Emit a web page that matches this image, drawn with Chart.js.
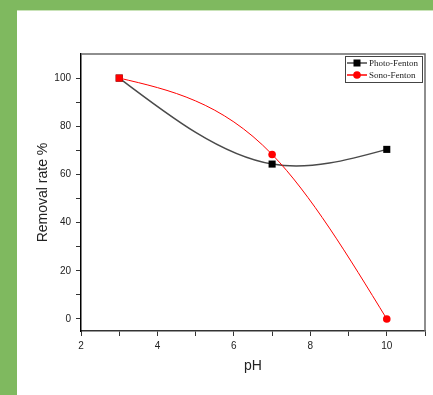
<!DOCTYPE html>
<html>
<head>
<meta charset="utf-8">
<script src="https://cdn.jsdelivr.net/npm/chart.js@4/dist/chart.umd.min.js"></script>
<style>
  html, body { margin: 0; padding: 0; background: #fff; }
  #wrap { position: relative; width: 433px; height: 395px; overflow: hidden; }
  #chart { position: absolute; left: 0; top: 0; }
  .bar-top { position: absolute; left: 0; top: 0; width: 433px; height: 10px; background: #7fb95f; border-bottom: 1px solid #c9e3b8; }
  .bar-left { position: absolute; left: 0; top: 0; width: 17px; height: 395px; background: #7fb95f; }
</style>
</head>
<body>
<div id="wrap">
  <canvas id="chart" width="433" height="395"></canvas>
  <div class="bar-top"></div>
  <div class="bar-left"></div>
</div>
<script>
  // values
  const phValues = [3, 7, 10];
  const photoFenton = [100, 64.3, 70.4];
  const sonoFenton = [100, 68.3, 0];
  const seriesNames = ['Photo-Fenton', 'Sono-Fenton'];
  const xTicks = [2, 3, 4, 5, 6, 7, 8, 9, 10, 11];
  const xLabels = [2, 4, 6, 8, 10];
  const yTicks = [0, 10, 20, 30, 40, 50, 60, 70, 80, 90, 100];
  const yLabels = [0, 20, 40, 60, 80, 100];

  const SANS = "'Liberation Sans', Arial, sans-serif";
  const SERIF = "'Liberation Serif', 'Times New Roman', serif";

  function pts(ys) {
    return phValues.map((x, i) => ({ x: x, y: ys[i] }));
  }

  // the original uses a natural cubic spline through the points;
  // reset chart.js bezier control points so each segment is that spline
  const naturalSpline = {
    id: 'naturalSpline',
    beforeDatasetDraw(chart, args) {
      const meta = args.meta;
      const p = meta.data;
      const n = p.length;
      if (n < 3 || !meta.dataset) return;
      meta.dataset.updateControlPoints(chart.chartArea, 'x');
      const h = [], s = [];
      for (let i = 0; i < n - 1; i++) {
        h.push(p[i + 1].x - p[i].x);
        s.push((p[i + 1].y - p[i].y) / h[i]);
      }
      // tridiagonal solve for second derivatives, M0 = Mn-1 = 0
      const M = new Array(n).fill(0);
      const a = [], b = [], c = [], d = [];
      for (let i = 1; i < n - 1; i++) {
        a.push(h[i - 1]);
        b.push(2 * (h[i - 1] + h[i]));
        c.push(h[i]);
        d.push(6 * (s[i] - s[i - 1]));
      }
      const m = b.length;
      for (let i = 1; i < m; i++) {
        const w = a[i] / b[i - 1];
        b[i] -= w * c[i - 1];
        d[i] -= w * d[i - 1];
      }
      for (let i = m - 1; i >= 0; i--) {
        M[i + 1] = (d[i] - (i < m - 1 ? c[i] * M[i + 2] : 0)) / b[i];
      }
      for (let i = 0; i < n - 1; i++) {
        const d0 = s[i] - h[i] * (2 * M[i] + M[i + 1]) / 6;
        const d1 = s[i] + h[i] * (M[i] + 2 * M[i + 1]) / 6;
        const k = h[i] / 3;
        p[i].cp2x = p[i].x + k;
        p[i].cp2y = p[i].y + d0 * k;
        p[i + 1].cp1x = p[i + 1].x - k;
        p[i + 1].cp1y = p[i + 1].y - d1 * k;
      }
    }
  };

  // top and right frame lines of the plot box
  const frame = {
    id: 'frame',
    afterDatasetsDraw(chart) {
      const { ctx, chartArea: a } = chart;
      ctx.save();
      ctx.strokeStyle = '#6a6a6a';
      ctx.lineWidth = 1.5;
      ctx.beginPath();
      ctx.moveTo(a.left, a.top);
      ctx.lineTo(a.right, a.top);
      ctx.lineTo(a.right, a.bottom);
      ctx.stroke();
      ctx.restore();
    }
  };

  // boxed legend in the top right corner, line + marker like the original
  const boxLegend = {
    id: 'boxLegend',
    afterDraw(chart) {
      const { ctx, chartArea: a } = chart;
      const w = 77, h = 26;
      const bx = a.right - w - 3, by = a.top + 2;
      ctx.save();
      ctx.fillStyle = '#fff';
      ctx.fillRect(bx, by, w, h);
      ctx.strokeStyle = '#444';
      ctx.lineWidth = 1;
      ctx.strokeRect(bx + 0.5, by + 0.5, w, h);
      chart.data.datasets.forEach((ds, i) => {
        const cy = by + 7 + i * 12;
        ctx.strokeStyle = ds.borderColor;
        ctx.lineWidth = 1.5;
        ctx.beginPath();
        ctx.moveTo(bx + 2, cy);
        ctx.lineTo(bx + 22, cy);
        ctx.stroke();
        ctx.fillStyle = ds.legendMarkColor;
        if (ds.legendMarker === 'rect') {
          ctx.fillRect(bx + 12 - 3.5, cy - 3.5, 7, 7);
        } else {
          ctx.beginPath();
          ctx.arc(bx + 12, cy, 3.8, 0, Math.PI * 2);
          ctx.fill();
        }
        ctx.fillStyle = '#222';
        ctx.font = '9px ' + SERIF;
        ctx.textBaseline = 'middle';
        ctx.fillText(ds.label, bx + 24, cy + 0.5);
      });
      ctx.restore();
    }
  };

  new Chart(document.getElementById('chart').getContext('2d'), {
    type: 'line',
    data: {
      datasets: [
        {
          label: seriesNames[0],
          data: pts(photoFenton),
          order: 1,
          borderColor: '#4a4a4a',
          borderWidth: 1.5,
          pointStyle: 'rect',
          pointRadius: 5,
          pointBackgroundColor: '#000',
          pointBorderColor: '#000',
          pointBorderWidth: 0,
          tension: 0.4,
          legendMarker: 'rect',
          legendMarkColor: '#000'
        },
        {
          label: seriesNames[1],
          data: pts(sonoFenton),
          order: 0,
          borderColor: '#ff0000',
          borderWidth: 1,
          pointStyle: ['rect', 'circle', 'circle'],
          pointRadius: [5, 3.8, 3.8],
          pointBackgroundColor: '#ff0000',
          pointBorderColor: '#ff0000',
          pointBorderWidth: 0,
          tension: 0.4,
          legendMarker: 'circle',
          legendMarkColor: '#ff0000'
        }
      ]
    },
    options: {
      responsive: false,
      animation: false,
      layout: { padding: { top: 54, right: 8, left: 0, bottom: 0 } },
      plugins: { legend: { display: false }, tooltip: { enabled: false } },
      scales: {
        x: {
          type: 'linear',
          min: 2,
          max: 11,
          afterBuildTicks: (s) => { s.ticks = xTicks.map(v => ({ value: v })); },
          afterFit: (s) => { s.height = 64; },
          border: { color: '#333', width: 1.5 },
          grid: { drawOnChartArea: false, tickLength: 5, tickColor: '#333', tickWidth: 1 },
          ticks: {
            autoSkip: false,
            maxRotation: 0,
            padding: 4,
            color: '#222',
            font: { family: SANS, size: 10 },
            callback: (v) => xLabels.includes(v) ? String(v) : ''
          },
          title: {
            display: true,
            text: 'pH',
            color: '#222',
            font: { family: SANS, size: 14 },
            padding: { top: 0, bottom: 20 }
          }
        },
        y: {
          min: -5,
          max: 110,
          afterBuildTicks: (s) => { s.ticks = yTicks.map(v => ({ value: v })); },
          afterFit: (s) => { s.width = 81; },
          border: { color: '#000', width: 1.5 },
          grid: { drawOnChartArea: false, tickLength: 5, tickColor: '#333', tickWidth: 1 },
          ticks: {
            autoSkip: false,
            padding: 5,
            color: '#222',
            font: { family: SANS, size: 10 },
            callback: (v) => yLabels.includes(v) ? String(v) : ''
          },
          title: {
            display: true,
            text: 'Removal rate %',
            color: '#222',
            font: { family: SANS, size: 14 },
            padding: { top: 35, bottom: 0 }
          }
        }
      }
    },
    plugins: [naturalSpline, frame, boxLegend]
  });
</script>
</body>
</html>
